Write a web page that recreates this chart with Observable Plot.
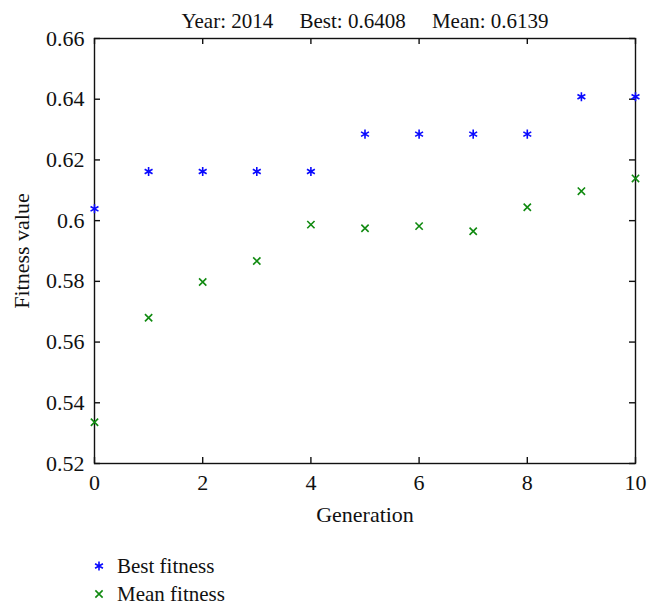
<!DOCTYPE html>
<html>
<head>
<meta charset="utf-8">
<script src="https://cdn.jsdelivr.net/npm/d3@7"></script>
<script src="https://cdn.jsdelivr.net/npm/@observablehq/plot@0.6"></script>
<style>
  html, body { margin: 0; padding: 0; background: #fff; }
  #chart { width: 658px; font-family: "Liberation Serif", "DejaVu Serif", serif; }
  .legend { padding-top: 12px; padding-left: 89px; }
  .legend .item { height: 28px; display: flex; align-items: center; font-size: 21px; color: #111; }
  .legend svg { margin-right: 8px; }
</style>
</head>
<body>
<div id="chart"></div>
<script>
const generations = [0, 1, 2, 3, 4, 5, 6, 7, 8, 9, 10];
const bestFitness = [0.6039, 0.6162, 0.6162, 0.6162, 0.6162, 0.6285, 0.6285, 0.6285, 0.6285, 0.6408, 0.6408];
const meanFitness = [0.5336, 0.5680, 0.5798, 0.5867, 0.5987, 0.5975, 0.5982, 0.5965, 0.6044, 0.6097, 0.6139];
const xTicks = [0, 2, 4, 6, 8, 10];
const xTickLabels = ["0", "2", "4", "6", "8", "10"];
const yTicks = [0.52, 0.54, 0.56, 0.58, 0.6, 0.62, 0.64, 0.66];
const yTickLabels = ["0.52", "0.54", "0.56", "0.58", "0.6", "0.62", "0.64", "0.66"];
const seriesNames = ["Best fitness", "Mean fitness"];
const titleText = "Year: 2014\u2003 Best: 0.6408\u2003 Mean: 0.6139";

const bestColor = "#0a0aff";
const meanColor = "#108a10";

const W = 658, H = 540, ML = 94, MR = 23, MT = 38, MB = 77;
const TICK = 6;
const frameW = W - ML - MR, frameH = H - MT - MB;

const best = generations.map((g, i) => ({gen: g, value: bestFitness[i]}));
const mean = generations.map((g, i) => ({gen: g, value: meanFitness[i]}));

const plot = Plot.plot({
  width: W,
  height: H,
  marginLeft: ML,
  marginRight: MR,
  marginTop: MT,
  marginBottom: MB,
  style: {fontFamily: "Liberation Serif, DejaVu Serif, serif", fontSize: "22px", color: "#111", background: "#fff", overflow: "visible"},
  x: {domain: [0, 10], ticks: xTicks, tickSize: 0, tickPadding: 11,
      tickFormat: (d) => xTickLabels[xTicks.indexOf(d)],
      label: "Generation", labelAnchor: "center", labelOffset: 58, labelArrow: false},
  y: {domain: [0.52, 0.66], ticks: yTicks, tickSize: 0, tickPadding: 10,
      tickFormat: (d) => yTickLabels[yTicks.findIndex(t => Math.abs(t - d) < 1e-9)],
      label: "Fitness value", labelAnchor: "center", labelOffset: 81, labelArrow: false},
  marks: [
    Plot.frame({stroke: "#111", strokeWidth: 1.4}),
    // inward ticks: bottom, top, left, right
    Plot.ruleX(xTicks, {x: d => d, insetTop: frameH - TICK, stroke: "#111", strokeWidth: 1.4}),
    Plot.ruleX(xTicks, {x: d => d, insetBottom: frameH - TICK, stroke: "#111", strokeWidth: 1.4}),
    Plot.ruleY(yTicks, {y: d => d, insetRight: frameW - TICK, stroke: "#111", strokeWidth: 1.4}),
    Plot.ruleY(yTicks, {y: d => d, insetLeft: frameW - TICK, stroke: "#111", strokeWidth: 1.4}),
    Plot.text([titleText], {frameAnchor: "top", lineAnchor: "middle", dy: -17, fontSize: 21, fill: "#111"}),
    Plot.dot(best, {x: "gen", y: "value", symbol: "asterisk", r: 4.3, stroke: bestColor, strokeWidth: 1.6}),
    Plot.dot(mean, {x: "gen", y: "value", symbol: "times", r: 3.4, stroke: meanColor, strokeWidth: 1.6})
  ]
});

const chart = document.getElementById("chart");
chart.appendChild(plot);

// legend below the plot
const legend = document.createElement("div");
legend.className = "legend";
const legendSymbols = [d3.symbolAsterisk, d3.symbolTimes];
const legendColors = [bestColor, meanColor];
const legendSizes = [Math.PI * 4.3 * 4.3, Math.PI * 3.4 * 3.4];
seriesNames.forEach((name, i) => {
  const item = document.createElement("div");
  item.className = "item";
  const svg = d3.create("svg").attr("width", 20).attr("height", 20);
  svg.append("path")
    .attr("transform", "translate(10,10)")
    .attr("d", d3.symbol(legendSymbols[i], legendSizes[i])())
    .attr("fill", "none")
    .attr("stroke", legendColors[i])
    .attr("stroke-width", 1.6);
  item.appendChild(svg.node());
  const span = document.createElement("span");
  span.textContent = name;
  item.appendChild(span);
  legend.appendChild(item);
});
chart.appendChild(legend);
</script>
</body>
</html>
